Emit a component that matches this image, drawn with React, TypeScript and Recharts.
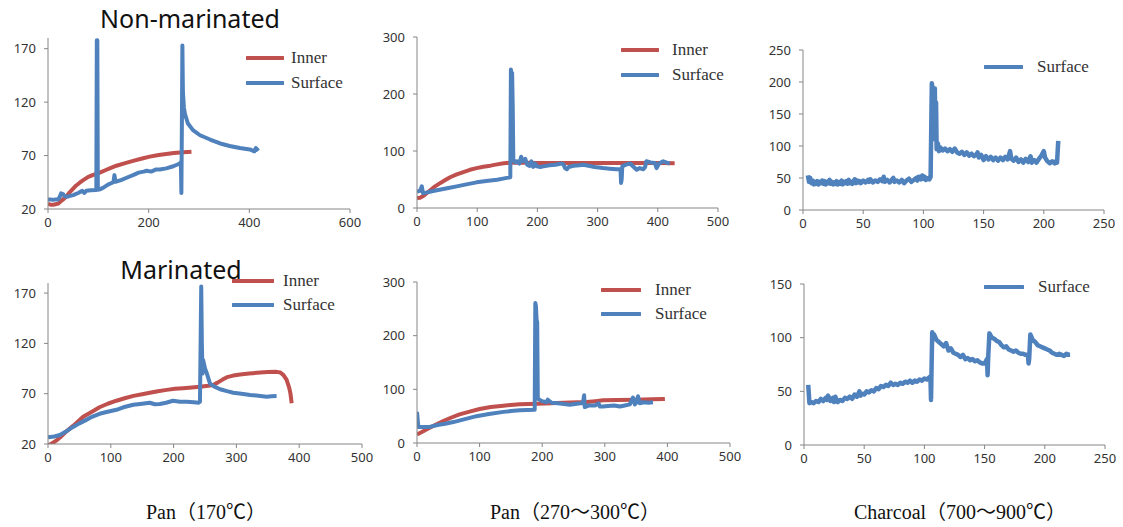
import React from "react";
import { LineChart, Line, XAxis, YAxis, Legend } from "recharts";

type Pt = [number, number];

// ---- Panel 1: Non-marinated, Pan 170℃ ----
const p1Inner: Pt[] = [[0,25],[5,24],[10,24],[15,24.5],[20,25],[25,27],[30,29],[36,31.5],[42,35],[50,39],[56,42],[63,44.6],[70,47],[80,50],[90,52],[103,54],[115,56.5],[125,58.5],[136,60.5],[150,62.5],[169,65],[185,67],[202,69],[220,70.5],[235,71.4],[250,72.3],[269,73],[285,73.5]];
const p1Surface: Pt[] = [[0,29],[5,29],[10,28.5],[15,29],[20,29],[23,31],[26,34.6],[30,34],[33,32],[36,31.5],[42,32],[50,33],[60,35],[68,37],[72,35],[76,37],[85,37.5],[96,37.7],[97,178],[98,178],[99,38],[103,38.4],[110,40],[120,43],[130,45],[132,51.7],[134,45.5],[145,47],[155,49],[169,51.7],[180,54],[190,55],[196,55.8],[205,55],[215,57],[222,57],[235,58],[249,60],[262,62.6],[264,64],[265,35],[266,100],[267,173],[268,130],[270,115],[272,109],[278,100],[288,93.8],[302,89],[322,85],[342,81.3],[361,79],[381,77],[401,75.7],[410,74],[413,77],[418,74.5]];

// ---- Panel 2: Non-marinated, Pan 270~300℃ ----
const p2Inner: Pt[] = [[0,17.5],[5,18],[11,21.6],[16,26],[22,31],[30,38],[39,44],[47,49],[55,54],[66,59],[77,63],[88,67],[99,70],[110,72.5],[122,74.3],[133,76.5],[144,78.4],[160,80],[180,79.5],[200,79],[250,79],[300,79],[350,79],[400,79],[428,78.5]];
const p2Surface: Pt[] = [[0,29],[5,30],[8,38],[10,26],[15,27],[25,29.5],[33,31],[50,34.5],[66,38],[80,41],[99,45],[115,47.5],[133,49.7],[145,52],[155,54],[156,243],[157,232],[158,237],[159,180],[160,85],[163,80],[166,82],[170,78],[173,90],[176,82],[180,86],[183,76],[187,74],[190,82],[193,72],[196,78],[199,73],[205,72],[210,73],[220,75],[230,76],[240,78],[243,77],[246,70],[249,68],[252,72],[260,74],[270,75],[276,76],[285,74],[295,72],[309,70],[320,69],[331,68],[338,68],[339,44],[340,50],[341,73],[347,76],[354,78],[360,72],[365,67],[370,70],[376,68],[379,72],[381,82],[388,80],[395,79],[398,70],[402,78],[409,82],[414,80],[420,78]];

// ---- Panel 3: Non-marinated, Charcoal ----
const p3Surface: Pt[] = [[4,54],[5,44],[6,50],[7,42],[8,46],[9,40],[10,44],[11,41],[12,45],[13,40],[14,44],[15,42],[16,46],[17,41],[18,45],[19,40],[20,44],[21,42],[22,47],[23,41],[24,44],[25,40],[26,43],[27,41],[28,45],[29,40],[30,43],[31,41],[32,46],[33,40],[34,44],[35,42],[36,45],[37,41],[38,47],[39,42],[40,44],[41,41],[42,45],[43,48],[44,42],[45,46],[46,43],[47,45],[48,42],[50,46],[52,43],[54,47],[55,44],[56,48],[58,43],[60,46],[62,44],[64,48],[66,45],[67,52],[68,44],[70,47],[72,43],[74,48],[75,50],[76,44],[78,46],[80,43],[82,47],[84,42],[86,46],[88,49],[90,44],[92,47],[94,50],[95,46],[96,52],[98,48],[99,54],[100,49],[101,52],[102,47],[104,50],[105,48],[106,52],[107,198],[108,185],[109,120],[109.5,190],[110,110],[110.5,168],[111,95],[112,104],[113,92],[114,98],[116,93],[118,96],[120,92],[122,95],[124,91],[126,96],[128,90],[130,88],[132,91],[134,86],[136,90],[138,85],[140,88],[142,84],[144,87],[145,90],[146,82],[148,86],[150,78],[152,84],[154,79],[156,83],[158,78],[160,82],[162,77],[164,82],[166,78],[168,83],[170,79],[172,92],[173,80],[175,77],[177,82],[179,75],[181,79],[183,74],[185,80],[187,75],[189,84],[190,74],[192,78],[194,74],[196,80],[198,85],[200,92],[201,82],[203,76],[205,73],[207,76],[209,73],[210,76],[211,74],[212,108]];

// ---- Panel 4: Marinated, Pan 170℃ ----
const p4Inner: Pt[] = [[0,19],[5,20],[13,23.3],[20,27],[29,32.3],[40,38],[56,47],[70,52],[82,56.5],[95,60],[109,63],[122,65.5],[136,67.8],[150,69.5],[162,71],[175,72.5],[189,73.8],[202,74.8],[215,75.4],[229,76.2],[242,77],[255,77.8],[263,78.7],[270,81],[278,84],[285,86.4],[295,88],[306,89],[320,90],[338,91],[350,91.5],[364,91.7],[370,91],[375,88.5],[380,83.7],[384,76],[386,70.4],[388,60.5]];
const p4Surface: Pt[] = [[0,26.6],[10,27.5],[19,29],[30,33],[40,37],[50,40.5],[61,44],[70,47],[82,50],[95,52],[109,54],[120,56.5],[136,59],[150,60],[162,61],[170,59.5],[178,59.8],[188,61],[199,63],[210,62],[221,62],[232,61.5],[240,61],[242,62],[244,176.6],[245,120],[246,90],[247,103.5],[250,95],[253,90],[258,80],[265,77],[274,74.4],[285,72.5],[295,71],[308,70],[322,68.8],[335,68],[348,67],[356,67.5],[364,67.7]];

// ---- Panel 5: Marinated, Pan 270~300℃ ----
const p5Inner: Pt[] = [[0,16],[7,20],[15,25],[28,33],[42,41],[55,47.5],[68,53.4],[84,58.5],[100,63.4],[118,67],[138,69.6],[150,70.8],[164,72],[178,72.5],[191,73],[205,73.8],[223,74.5],[245,75.5],[271,76.4],[285,78],[297,79.5],[320,80],[351,80.7],[375,81.3],[396,82]];
const p5Surface: Pt[] = [[0,58],[1,45],[2,30],[10,30],[20,30],[35,34],[45,36],[58,39],[75,44],[95,50],[115,54],[138,58],[150,59.5],[164,61],[176,61.5],[188,62],[189,261],[190,255],[191,230],[192,225],[193,82.6],[200,78],[207,76],[209,80.7],[215,75],[225,74],[235,72.5],[244,71.4],[255,73],[265,74.5],[267,88.8],[268,67],[275,70],[285,70],[290,74],[292,68],[297,68],[305,69],[315,70],[324,68],[332,70],[340,72],[345,84.5],[348,72],[351,76],[353,87],[356,74],[362,76],[370,75],[377,76]];

// ---- Panel 6: Marinated, Charcoal ----
const p6Surface: Pt[] = [[3.5,56],[4,48],[4.5,39],[6,40],[8,39],[10,41],[12,40],[14,43],[16,41],[18,44],[19,42],[20,46],[22,41],[24,44],[25,40],[26,45],[28,40],[30,42],[32,41],[34,44],[36,43],[38,45],[40,43],[42,47],[44,45],[46,50],[47,46],[48,48],[50,47],[52,50],[54,49],[56,51],[58,50],[60,53],[62,52],[64,55],[66,54],[68,56],[70,55],[72,58],[74,56],[76,57],[78,56],[80,58],[82,57],[84,59],[86,58],[88,60],[90,58],[92,60],[94,59],[96,61],[98,60],[100,62],[102,61],[104,63],[105,64],[105.5,42],[106,75],[106.5,105],[107,100],[108,103],[110,98],[112,96],[114,94],[116,92],[118,95],[120,88],[122,90],[124,86],[126,85],[128,84],[130,82],[132,84],[134,80],[136,81],[138,79],[140,80],[142,78],[144,79],[146,77],[148,76],[150,76],[151,78],[152,80],[152.5,65],[153,82],[154,104],[156,100],[158,99],[160,97],[162,96],[164,93],[166,91],[168,92],[170,89],[172,88],[174,87],[176,88],[178,86],[180,85],[182,85],[184,84],[186,84],[186.5,76],[187,80],[188,103],[190,98],[192,96],[194,93],[196,92],[198,91],[200,90],[202,89],[204,88],[206,86],[208,85],[210,84],[212,85],[214,84],[216,83],[218,85],[220,84],[221,84]];

const xTicksPan170Top = [0, 200, 400, 600];
const xTicks500 = [0, 100, 200, 300, 400, 500];
const xTicks250 = [0, 50, 100, 150, 200, 250];
const yTicks170 = [20, 70, 120, 170];
const yTicks300 = [0, 100, 200, 300];
const yTicks250 = [0, 50, 100, 150, 200, 250];
const yTicks150 = [0, 50, 100, 150];

const titles = ["Non-marinated", "Marinated"];
const captions = ["Pan（170℃）", "Pan（270～300℃）", "Charcoal（700～900℃）"];

const RED = "#C0504D";
const BLUE = "#4F81BD";
const AXIS = "#868686";

interface SeriesDef { name: string; color: string; pts: Pt[] }
interface PanelProps {
  plotLeft: number; plotTop: number; plotW: number; plotH: number;
  xDomain: [number, number]; xTicks: number[];
  yDomain: [number, number]; yTicks: number[];
  series: SeriesDef[];
  legendLeft: number; legendTop: number; rowGap: number; lineLen: number; textGap: number;
  strokeW: number;
}

const ML = 5, YW = 45, MR = 20, MT = 10, XH = 28, MB = 5;

function Panel(p: PanelProps) {
  const width = ML + YW + p.plotW + MR;
  const height = MT + p.plotH + XH + MB;
  const renderLegend = () => (
    <div style={{ position: "relative" }}>
      {p.series.map((s) => (
        <div key={s.name} style={{ display: "flex", alignItems: "center", height: p.rowGap, lineHeight: p.rowGap + "px" }}>
          <svg width={p.lineLen} height={6} style={{ display: "block" }}>
            <line x1={1} y1={3} x2={p.lineLen - 1} y2={3} stroke={s.color} strokeWidth={4} strokeLinecap="round" />
          </svg>
          <span style={{ marginLeft: p.textGap, fontFamily: "'Liberation Serif', 'DejaVu Serif', serif", fontSize: 17, color: "#333" }}>{s.name}</span>
        </div>
      ))}
    </div>
  );
  return (
    <div style={{ position: "absolute", left: p.plotLeft - ML - YW, top: p.plotTop - MT }}>
      <LineChart width={width} height={height} margin={{ top: MT, right: MR, bottom: MB, left: ML }}>
        <XAxis
          type="number"
          dataKey="t"
          domain={p.xDomain}
          ticks={p.xTicks}
          allowDataOverflow
          height={XH}
          stroke={AXIS}
          tickSize={4}
          tickMargin={5}
          tick={{ fill: "#333", fontSize: 13, fontFamily: "'Noto Sans', sans-serif" }}
        />
        <YAxis
          type="number"
          domain={p.yDomain}
          ticks={p.yTicks}
          allowDataOverflow
          width={YW}
          stroke={AXIS}
          tickSize={4}
          tickMargin={8}
          tick={{ fill: "#333", fontSize: 13, fontFamily: "'Noto Sans', sans-serif" }}
        />
        <Legend
          layout="vertical"
          align="center"
          verticalAlign="middle"
          content={renderLegend}
          wrapperStyle={{ left: p.legendLeft - (p.plotLeft - ML - YW), top: p.legendTop - (p.plotTop - MT), width: "auto" }}
        />
        {p.series.map((s) => (
          <Line
            key={s.name}
            name={s.name}
            data={s.pts.map(([t, v]) => ({ t, v }))}
            dataKey="v"
            stroke={s.color}
            strokeWidth={p.strokeW}
            dot={false}
            activeDot={false}
            isAnimationActive={false}
            strokeLinejoin="round"
          />
        ))}
      </LineChart>
    </div>
  );
}

export default function App() {
  return (
    <div style={{ position: "absolute", left: 0, top: 0, width: 1123, height: 527, background: "#fff", overflow: "hidden" }}>
      <div style={{ position: "absolute", left: 90, top: 1, width: 200, textAlign: "center", fontFamily: "'Noto Sans', sans-serif", fontSize: 25, color: "#111" }}>{titles[0]}</div>
      <div style={{ position: "absolute", left: 81, top: 252, width: 200, textAlign: "center", fontFamily: "'Noto Sans', sans-serif", fontSize: 25, color: "#111" }}>{titles[1]}</div>
      <Panel plotLeft={48} plotTop={38} plotW={302} plotH={171} xDomain={[0, 600]} xTicks={xTicksPan170Top} yDomain={[20, 180]} yTicks={yTicks170}
        series={[{ name: "Inner", color: RED, pts: p1Inner }, { name: "Surface", color: BLUE, pts: p1Surface }]}
        legendLeft={246} legendTop={45} rowGap={25} lineLen={38} textGap={7} strokeW={4} />
      <Panel plotLeft={417} plotTop={37} plotW={301} plotH={171} xDomain={[0, 500]} xTicks={xTicks500} yDomain={[0, 300]} yTicks={yTicks300}
        series={[{ name: "Inner", color: RED, pts: p2Inner }, { name: "Surface", color: BLUE, pts: p2Surface }]}
        legendLeft={621} legendTop={37} rowGap={25} lineLen={38} textGap={13} strokeW={4} />
      <Panel plotLeft={803} plotTop={50} plotW={301} plotH={160} xDomain={[0, 250]} xTicks={xTicks250} yDomain={[0, 250]} yTicks={yTicks250}
        series={[{ name: "Surface", color: BLUE, pts: p3Surface }]}
        legendLeft={984} legendTop={55} rowGap={24} lineLen={39} textGap={14} strokeW={4.5} />
      <Panel plotLeft={48} plotTop={283} plotW={314} plotH={161} xDomain={[0, 500]} xTicks={xTicks500} yDomain={[20, 180]} yTicks={yTicks170}
        series={[{ name: "Inner", color: RED, pts: p4Inner }, { name: "Surface", color: BLUE, pts: p4Surface }]}
        legendLeft={232} legendTop={269} rowGap={24} lineLen={42} textGap={9} strokeW={4} />
      <Panel plotLeft={417} plotTop={282} plotW={313} plotH={161} xDomain={[0, 500]} xTicks={xTicks500} yDomain={[0, 300]} yTicks={yTicks300}
        series={[{ name: "Inner", color: RED, pts: p5Inner }, { name: "Surface", color: BLUE, pts: p5Surface }]}
        legendLeft={601} legendTop={278} rowGap={24} lineLen={40} textGap={14} strokeW={4} />
      <Panel plotLeft={804} plotTop={284} plotW={301} plotH={161} xDomain={[0, 250]} xTicks={xTicks250} yDomain={[0, 150]} yTicks={yTicks150}
        series={[{ name: "Surface", color: BLUE, pts: p6Surface }]}
        legendLeft={984} legendTop={275} rowGap={24} lineLen={40} textGap={14} strokeW={4.5} />
      {captions.map((c, i) => (
        <div key={c} style={{ position: "absolute", left: [206, 575, 960][i] - 150, top: 496, width: 300, textAlign: "center", fontFamily: "'Liberation Serif', 'Noto Sans CJK KR', serif", fontSize: 20, color: "#111" }}>{c}</div>
      ))}
    </div>
  );
}
